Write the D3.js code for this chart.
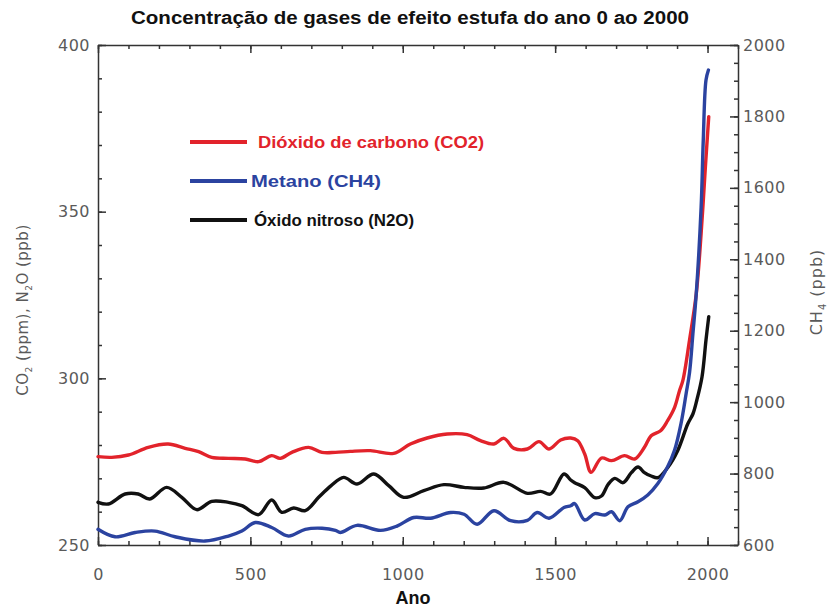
<!DOCTYPE html>
<html>
<head>
<meta charset="utf-8">
<script src="https://cdn.jsdelivr.net/npm/d3@7"></script>
<style>
  body { margin: 0; background: #fff; }
  svg { display: block; }
  .tick text { font-family: "DejaVu Sans", sans-serif; font-size: 16px; letter-spacing: 0.5px; fill: #5a5a5a; }
  .axis path, .axis line { stroke: #333; stroke-width: 1.5; }
</style>
</head>
<body>
<div id="chart"></div>
<script>
// CO2 (ppm), left axis
const co2Year = [0, 45, 100, 165, 230, 286, 330, 373, 428, 483, 527, 570, 598, 636, 691, 735, 779,
  828, 894, 970, 1025, 1080, 1146, 1211, 1255, 1299, 1332, 1365, 1409, 1447, 1480, 1518, 1551,
  1574, 1597, 1618, 1652, 1685, 1728, 1761, 1793, 1815, 1846, 1869, 1892, 1908, 1919, 1941, 1963, 1979, 1993, 2004];
const co2Ppm = [276.5, 276.3, 277, 279.3, 280.3, 279, 278, 276.3, 276, 275.8, 275, 276.8, 276, 277.8, 279.3, 277.8, 277.8,
  278.1, 278.3, 277.5, 280.3, 282.1, 283.3, 283.1, 281.3, 280.3, 282, 279, 278.8, 281, 278.8, 281.5, 282.1,
  281.3, 277.3, 271.8, 276.1, 275.3, 276.8, 275.8, 279.3, 282.8, 284.3, 287.3, 291.3, 296.3, 299.3, 311.5, 325.3, 343.4, 363.4, 378.5];

// CH4 (ppb), right axis
const ch4Year = [0, 56, 122, 187, 253, 351, 428, 472, 516, 570, 625, 680, 735, 779,
  795, 850, 927, 981, 1036, 1091, 1157, 1201, 1244, 1299, 1354, 1409, 1441, 1480, 1529, 1551,
  1564, 1597, 1630, 1663, 1685, 1712, 1739, 1772, 1804, 1837, 1869, 1892, 1913, 1930, 1941, 1952, 1963, 1979, 1986, 1995, 2003];
const ch4Ppb = [644, 623, 635, 639, 623, 611, 625, 639, 663, 649, 625, 644, 647, 641,
  635, 655, 641, 653, 677, 675, 691, 686, 658, 696, 668, 669, 691, 675, 705, 710,
  716, 670, 688, 684, 693, 668, 707, 721, 740, 772, 819, 866, 940, 1025, 1083, 1191, 1303, 1546, 1733, 1902, 1930];

// N2O (ppb), left axis
const n2oYear = [0, 34, 89, 132, 170, 225, 275, 324, 373, 428, 472, 527, 570, 603, 642, 680, 724, 765,
  806, 850, 905, 954, 1003, 1069, 1135, 1201, 1266, 1332, 1409, 1452, 1485, 1529, 1551,
  1564, 1597, 1630, 1652, 1674, 1696, 1723, 1750, 1772, 1793, 1815, 1837, 1869, 1902, 1935, 1952, 1965, 1982, 1995, 2004];
const n2oPpb = [262.8, 262.3, 265.3, 265.3, 263.8, 267.3, 264.3, 260.6, 263.1, 262.8, 261.8, 259.1, 263.5, 259.8, 261.1, 260.3, 264.3, 267.8,
  270.3, 268.3, 271.3, 267.8, 264.3, 266.3, 268.1, 267.3, 267.1, 268.8, 265.5, 266.1, 265.3, 271.3, 269.5,
  268.7, 267.2, 264.2, 264.7, 268.2, 270, 268.7, 271.7, 273.4, 271.7, 270.7, 270.2, 273.2, 278.3, 286.3, 289.3, 293.5, 300.5, 311.5, 318.5];

const xTicks = [0, 500, 1000, 1500, 2000];
const leftTicks = [250, 300, 350, 400];
const rightTicks = [600, 800, 1000, 1200, 1400, 1600, 1800, 2000];

const legendLabels = ["Dióxido de carbono (CO2)", "Metano (CH4)", "Óxido nitroso (N2O)"];
const legendColors = ["#e2232b", "#2b43a0", "#111"];
const legendTextX = [258, 251, 254];
const legendTextW = [226, 130, 160];

const W = 833, H = 609;
const margin = { top: 45, right: 95, bottom: 64, left: 98 };
const innerW = W - margin.left - margin.right;
const innerH = H - margin.top - margin.bottom;

const svg = d3.select("#chart").append("svg").attr("width", W).attr("height", H);
const g = svg.append("g").attr("transform", `translate(${margin.left},${margin.top})`);

const x = d3.scaleLinear().domain([0, 2100]).range([0, innerW]);
const yLeft = d3.scaleLinear().domain([250, 400]).range([innerH, 0]);
const yRight = d3.scaleLinear().domain([600, 2000]).range([innerH, 0]);

// Minor ticks first, then major ticks with labels
function addAxis(axisFn, scale, minor, major, size, transform, labels, pad) {
  const gm = g.append("g").attr("class", "axis").attr("transform", transform)
    .call(axisFn(scale).tickValues(minor).tickSizeInner(-size / 2).tickSizeOuter(0).tickFormat(""));
  gm.select(".domain").remove();
  const ga = g.append("g").attr("class", "axis").attr("transform", transform)
    .call(axisFn(scale).tickValues(major).tickSizeInner(-size).tickSizeOuter(0)
      .tickPadding(pad).tickFormat(labels ? d3.format("d") : ""));
  return ga;
}

addAxis(d3.axisBottom, x, d3.range(0, 2101, 100), xTicks, 8, `translate(0,${innerH})`, true, 24);
addAxis(d3.axisTop, x, d3.range(0, 2101, 100), xTicks, 8, "translate(0,0)", false, 0);
addAxis(d3.axisLeft, yLeft, d3.range(250, 401, 10), leftTicks, 8, "translate(0,0)", true, 8);
addAxis(d3.axisRight, yRight, d3.range(600, 2001, 50), rightTicks, 8, `translate(${innerW},0)`, true, 5);

// Series
function drawLine(years, values, yScale, color) {
  const data = years.map((d, i) => [d, values[i]]);
  g.append("path").datum(data)
    .attr("fill", "none").attr("stroke", color).attr("stroke-width", 3.4)
    .attr("stroke-linejoin", "round").attr("stroke-linecap", "round")
    .attr("d", d3.line().x(d => x(d[0])).y(d => yScale(d[1])).curve(d3.curveCatmullRom));
}
drawLine(co2Year, co2Ppm, yLeft, legendColors[0]);
drawLine(n2oYear, n2oPpb, yLeft, legendColors[2]);
drawLine(ch4Year, ch4Ppb, yRight, legendColors[1]);

// Legend
legendLabels.forEach((label, i) => {
  const yy = 142 + i * 39;
  svg.append("line").attr("x1", 190).attr("x2", 247).attr("y1", yy).attr("y2", yy)
    .attr("stroke", legendColors[i]).attr("stroke-width", 4);
  svg.append("text").attr("x", legendTextX[i]).attr("y", yy + 6)
    .attr("font-family", "Liberation Sans, Arial, sans-serif").attr("font-weight", "bold")
    .attr("font-size", 16).attr("fill", legendColors[i])
    .attr("textLength", legendTextW[i]).attr("lengthAdjust", "spacingAndGlyphs")
    .text(label);
});

// Titles
svg.append("text").attr("x", 410).attr("y", 24).attr("text-anchor", "middle")
  .attr("font-family", "Liberation Sans, Arial, sans-serif").attr("font-weight", "bold")
  .attr("font-size", 18).attr("fill", "#111")
  .attr("textLength", 558).attr("lengthAdjust", "spacingAndGlyphs")
  .text("Concentração de gases de efeito estufa do ano 0 ao 2000");

svg.append("text").attr("x", margin.left + innerW / 2 - 5).attr("y", 604).attr("text-anchor", "middle")
  .attr("font-family", "Liberation Sans, Arial, sans-serif").attr("font-weight", "bold")
  .attr("font-size", 18).attr("fill", "#111").text("Ano");

const yl = svg.append("text").attr("transform", "translate(28,310) rotate(-90)").attr("text-anchor", "middle")
  .attr("font-family", "DejaVu Sans, sans-serif").attr("font-size", 15).attr("letter-spacing", 0.5).attr("fill", "#5a5a5a");
yl.append("tspan").text("CO");
yl.append("tspan").attr("font-size", 9).attr("dy", 4).text("2");
yl.append("tspan").attr("dy", -4).text(" (ppm), N");
yl.append("tspan").attr("font-size", 9).attr("dy", 4).text("2");
yl.append("tspan").attr("dy", -4).text("O (ppb)");

const yr = svg.append("text").attr("transform", "translate(822,292) rotate(-90)").attr("text-anchor", "middle")
  .attr("font-family", "DejaVu Sans, sans-serif").attr("font-size", 16).attr("letter-spacing", 1).attr("fill", "#5a5a5a");
yr.append("tspan").text("CH");
yr.append("tspan").attr("font-size", 10).attr("dy", 4).text("4");
yr.append("tspan").attr("dy", -4).text(" (ppb)");
</script>
</body>
</html>
